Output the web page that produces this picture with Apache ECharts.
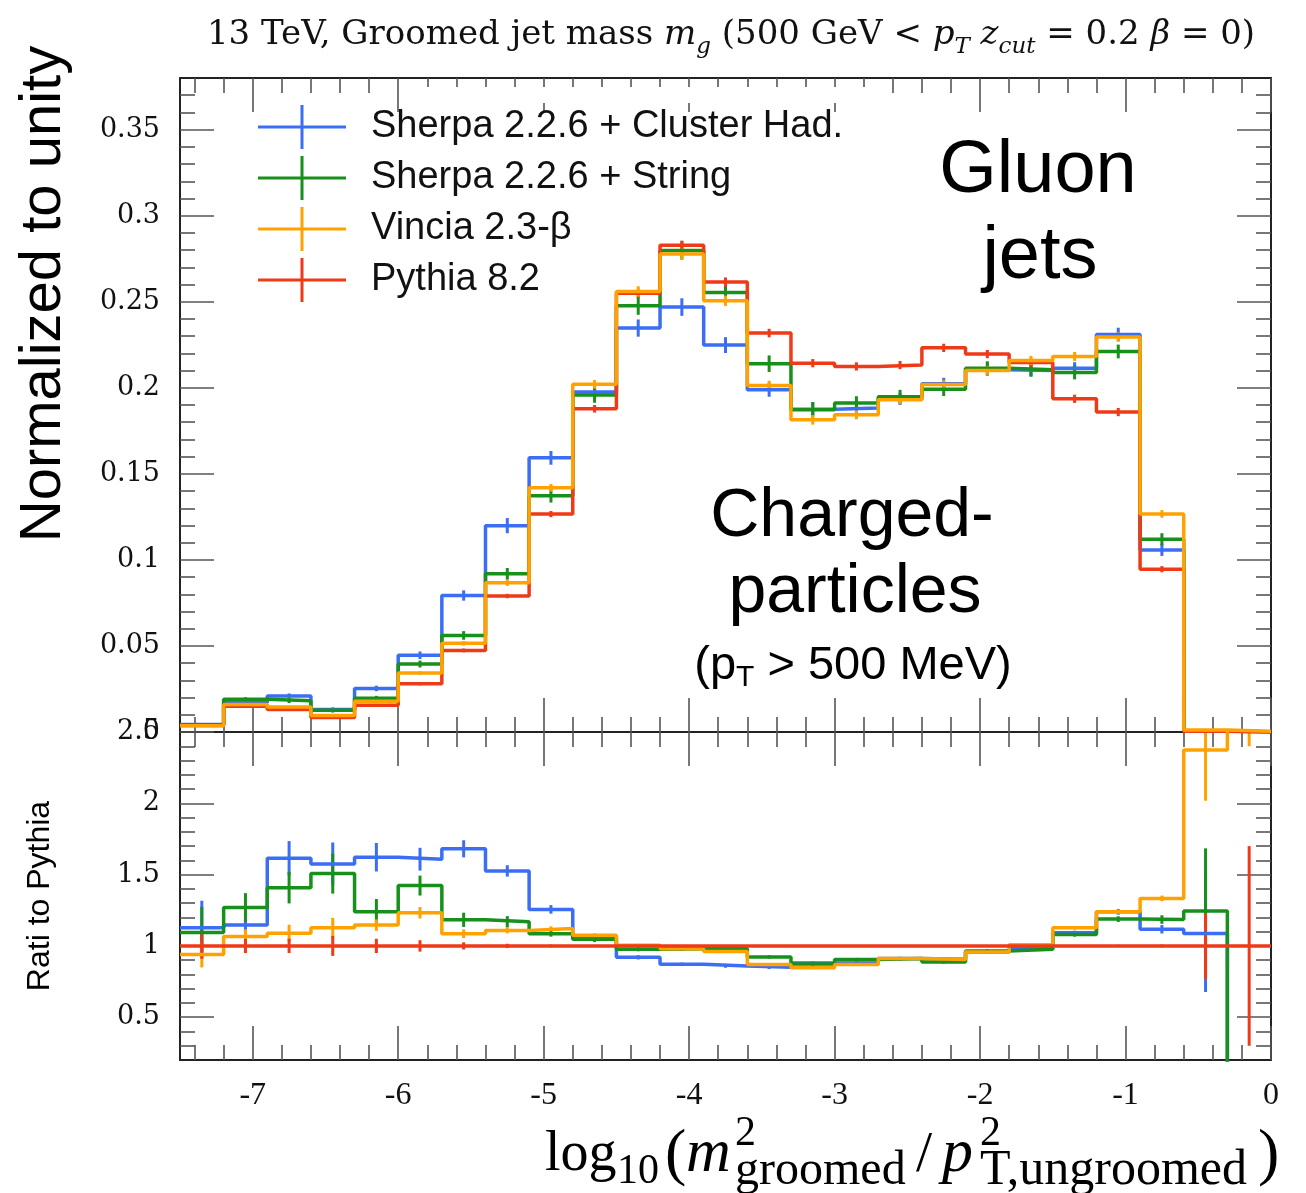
<!DOCTYPE html>
<html>
<head>
<meta charset="utf-8">
<script src="https://cdn.jsdelivr.net/npm/echarts@6/dist/echarts.min.js"></script>
<style>
  html, body { margin: 0; padding: 0; background: #fff; }
  #chart { width: 1306px; height: 1193px; }
</style>
</head>
<body>
<div id="chart"></div>
<script>
// Bin edges of log10(m_g^2 / pT^2)
const binEdges = [-7.5, -7.2, -6.9, -6.6, -6.3, -6.0, -5.7, -5.4, -5.1, -4.8, -4.5, -4.2, -3.9,
                  -3.6, -3.3, -3.0, -2.7, -2.4, -2.1, -1.8, -1.5, -1.2, -0.9, -0.6, -0.3, 0];

// Normalized distributions (upper panel)
const sherpaClusterNorm = [0.0043, 0.0172, 0.0209, 0.0131, 0.0253, 0.0446, 0.0793, 0.1199, 0.1593, 0.1975, 0.2347, 0.2469, 0.2248,
                           0.1988, 0.1876, 0.1882, 0.1935, 0.2023, 0.2105, 0.2101, 0.2114, 0.2310, 0.1058, 0.0005, 0];
const sherpaClusterNormErr = [0.0008, 0.0010, 0.0015, 0.0012, 0.0016, 0.0022, 0.0030, 0.0044, 0.0040, 0.0040, 0.0050, 0.0051, 0.0046,
                              0.0040, 0.0040, 0.0035, 0.0035, 0.0035, 0.0035, 0.0035, 0.0035, 0.0039, 0.0035, 0.0003, 0];
const sherpaStringNorm = [0.0042, 0.0190, 0.0182, 0.0126, 0.0196, 0.0395, 0.0561, 0.0919, 0.1373, 0.1958, 0.2477, 0.2798, 0.2554,
                          0.2140, 0.1872, 0.1911, 0.1948, 0.1992, 0.2114, 0.2105, 0.2089, 0.2211, 0.1120, 0.0006, 0];
const sherpaStringNormErr = [0.0008, 0.0012, 0.0014, 0.0013, 0.0014, 0.0020, 0.0025, 0.0034, 0.0040, 0.0045, 0.0053, 0.0053, 0.0053,
                             0.0048, 0.0045, 0.0040, 0.0040, 0.0040, 0.0040, 0.0040, 0.0040, 0.0040, 0.0035, 0.0004, 0];
const vinciaNorm = [0.0036, 0.0160, 0.0145, 0.0096, 0.0179, 0.0343, 0.0515, 0.0867, 0.1419, 0.2020, 0.2560, 0.2777, 0.2506,
                    0.2013, 0.1814, 0.1843, 0.1930, 0.2019, 0.2101, 0.2159, 0.2182, 0.2295, 0.1267, 0.0012, 0.0005];
const vinciaNormErr = [0.0005, 0.0006, 0.0007, 0.0007, 0.0008, 0.0010, 0.0013, 0.0018, 0.0022, 0.0025, 0.0030, 0.0032, 0.0030,
                       0.0028, 0.0028, 0.0026, 0.0026, 0.0026, 0.0026, 0.0026, 0.0026, 0.0028, 0.0022, 0.0004, 0.0003];
const pythiaNorm = [0.0038, 0.0150, 0.0131, 0.0084, 0.0156, 0.0280, 0.0474, 0.0790, 0.1266, 0.1878, 0.2550, 0.2828, 0.2614,
                    0.2318, 0.2143, 0.2124, 0.2132, 0.2232, 0.2196, 0.2147, 0.1936, 0.1859, 0.0946, 0.0005, 0.0002];
const pythiaNormErr = [0.0003, 0.0007, 0.0006, 0.0005, 0.0007, 0.0009, 0.0011, 0.0013, 0.0018, 0.0022, 0.0025, 0.0027, 0.0027,
                       0.0025, 0.0024, 0.0024, 0.0024, 0.0024, 0.0024, 0.0024, 0.0024, 0.0024, 0.0018, 0.0001, 0.0001];

// Ratios to Pythia 8.2 (lower panel)
const sherpaClusterRatio = [1.127, 1.146, 1.615, 1.575, 1.622, 1.608, 1.681, 1.526, 1.256, 1.063, 0.920, 0.871, 0.859,
                            0.850, 0.880, 0.880, 0.911, 0.906, 0.958, 0.980, 1.092, 1.239, 1.117, 1.087, 0];
const sherpaClusterRatioErr = [0.19, 0.04, 0.12, 0.15, 0.10, 0.08, 0.06, 0.04, 0.03, 0.02, 0.015, 0.012, 0.012,
                               0.012, 0.012, 0.012, 0.012, 0.012, 0.012, 0.012, 0.015, 0.02, 0.03, 0.41, 0];
const sherpaStringRatio = [1.094, 1.270, 1.408, 1.507, 1.239, 1.423, 1.183, 1.169, 1.085, 1.047, 0.977, 0.980, 0.980,
                           0.923, 0.873, 0.904, 0.911, 0.887, 0.965, 0.977, 1.080, 1.188, 1.185, 1.244, 0];
const sherpaStringRatioErr = [0.18, 0.10, 0.11, 0.14, 0.09, 0.07, 0.05, 0.04, 0.02, 0.02, 0.015, 0.015, 0.012,
                              0.012, 0.012, 0.012, 0.012, 0.012, 0.012, 0.012, 0.015, 0.02, 0.03, 0.44, 0];
const vinciaRatio = [0.939, 1.066, 1.089, 1.127, 1.146, 1.232, 1.085, 1.108, 1.122, 1.075, 1.005, 0.980, 0.960,
                     0.869, 0.847, 0.869, 0.911, 0.904, 0.958, 1.009, 1.127, 1.239, 1.333, 2.373, 3.0];
const vinciaRatioErr = [0.09, 0.05, 0.06, 0.07, 0.04, 0.04, 0.03, 0.02, 0.015, 0.012, 0.01, 0.01, 0.01,
                        0.01, 0.01, 0.01, 0.01, 0.01, 0.01, 0.01, 0.012, 0.015, 0.02, 0.355, 0.6];
const pythiaRatio = [1, 1, 1, 1, 1, 1, 1, 1, 1, 1, 1, 1, 1, 1, 1, 1, 1, 1, 1, 1, 1, 1, 1, 1, 1];
const pythiaRatioErr = [0.09, 0.05, 0.05, 0.07, 0.05, 0.04, 0.025, 0.015, 0.01, 0.008, 0.005, 0.005, 0.005,
                        0.005, 0.005, 0.005, 0.005, 0.005, 0.005, 0.005, 0.006, 0.008, 0.01, 0.23, 0.70];

// Tick marks and labels
const xMajorTicks = [-7, -6, -5, -4, -3, -2, -1, 0];
const normMajorTicks = [0, 0.05, 0.1, 0.15, 0.2, 0.25, 0.3, 0.35];
const ratioMajorTicks = [0.5, 1, 1.5, 2];
const ratioLabelValues = [0.5, 1, 1.5, 2, 2.5];

const xMinorTicks = [];
for (let k = -37; k <= -1; k++) if (k % 5 !== 0) xMinorTicks.push(k * 2 / 10);
const normMinorTicks = [];
for (let k = 1; k <= 37; k++) if (k % 5 !== 0) normMinorTicks.push(k / 100);
const ratioMinorTicks = [];
for (let k = 3; k <= 24; k++) if (k % 5 !== 0) ratioMinorTicks.push(k / 10);

const generators = [
  { name: 'Sherpa 2.2.6 + Cluster Had.', color: '#3b6ef5', norm: sherpaClusterNorm, normErr: sherpaClusterNormErr, ratio: sherpaClusterRatio, ratioErr: sherpaClusterRatioErr },
  { name: 'Sherpa 2.2.6 + String', color: '#18901c', norm: sherpaStringNorm, normErr: sherpaStringNormErr, ratio: sherpaStringRatio, ratioErr: sherpaStringRatioErr },
  { name: 'Vincia 2.3-β', color: '#ffa200', norm: vinciaNorm, normErr: vinciaNormErr, ratio: vinciaRatio, ratioErr: vinciaRatioErr },
  { name: 'Pythia 8.2', color: '#ef3a18', norm: pythiaNorm, normErr: pythiaNormErr, ratio: pythiaRatio, ratioErr: pythiaRatioErr }
];

const SERIF = 'Liberation Serif';
const WIDE_SERIF = 'DejaVu Serif';
const SANS = 'Liberation Sans';
const TICK_STYLE = { color: '#555', width: 1.6 };
const FRAME_STYLE = { color: '#222', width: 2 };
const LINE_W = 3.5;

function stepPoints(vals) {
  const pts = vals.map((v, i) => [binEdges[i], v]);
  pts.push([binEdges[vals.length], vals[vals.length - 1]]);
  return pts;
}
function errPoints(vals, errs) {
  return vals.map((v, i) => [(binEdges[i] + binEdges[i + 1]) / 2, v, errs[i]]);
}

function xAxisSet(grid, withLabels) {
  const base = { gridIndex: grid, type: 'value', min: -7.5, max: 0, splitLine: { show: false } };
  const major = (pos, labels) => Object.assign({}, base, {
    position: pos,
    axisLine: { show: true, onZero: false, lineStyle: FRAME_STYLE },
    axisTick: { show: true, inside: true, length: 34, customValues: xMajorTicks, lineStyle: TICK_STYLE },
    axisLabel: { show: labels, customValues: xMajorTicks, margin: 20, fontFamily: SERIF, fontSize: 32, color: '#111' }
  });
  const minor = (pos) => Object.assign({}, base, {
    position: pos,
    axisLine: { show: false, onZero: false },
    axisTick: { show: true, inside: true, length: 15, customValues: xMinorTicks, lineStyle: TICK_STYLE },
    axisLabel: { show: false }
  });
  return [major('bottom', withLabels), minor('bottom'), major('top', false), minor('top')];
}

function yAxisSet(grid, min, max, majors, minors, labels) {
  const base = { gridIndex: grid, type: 'value', min: min, max: max, splitLine: { show: false } };
  const major = (pos, showLabels) => Object.assign({}, base, {
    position: pos,
    axisLine: { show: true, onZero: false, lineStyle: FRAME_STYLE },
    axisTick: { show: true, inside: true, length: 34, customValues: majors, lineStyle: TICK_STYLE },
    axisLabel: { show: showLabels, customValues: labels, margin: 20, fontFamily: WIDE_SERIF, fontSize: 27, color: '#111' }
  });
  const minor = (pos) => Object.assign({}, base, {
    position: pos,
    axisLine: { show: false, onZero: false },
    axisTick: { show: true, inside: true, length: 15, customValues: minors, lineStyle: TICK_STYLE },
    axisLabel: { show: false }
  });
  return [major('left', true), minor('left'), major('right', false), minor('right')];
}

function errorBarSeries(name, color, data, xi, yi) {
  return {
    name: name, type: 'custom', xAxisIndex: xi, yAxisIndex: yi, clip: true, z: 3,
    encode: { x: 0, y: 1 },
    data: data,
    renderItem: function (params, api) {
      const x = api.value(0), y = api.value(1), e = api.value(2);
      if (!(e > 0)) return null;
      const a = api.coord([x, y - e]);
      const b = api.coord([x, y + e]);
      return { type: 'line', shape: { x1: a[0], y1: a[1], x2: b[0], y2: b[1] },
               style: { stroke: color, lineWidth: 3 } };
    }
  };
}

function stepSeries(name, color, vals, xi, yi) {
  return {
    name: name, type: 'line', step: 'end', xAxisIndex: xi, yAxisIndex: yi,
    showSymbol: false, symbol: 'none', clip: true, z: 3,
    itemStyle: { color: color },
    lineStyle: { color: color, width: LINE_W },
    data: stepPoints(vals)
  };
}

const series = [];
// upper panel: Sherpa cluster, Sherpa string, Pythia, Vincia on top
[0, 1, 3, 2].forEach(i => {
  const g = generators[i];
  series.push(stepSeries(g.name, g.color, g.norm, 0, 0));
  series.push(errorBarSeries(g.name, g.color, errPoints(g.norm, g.normErr), 0, 0));
});
// lower panel: reference line last
[0, 1, 2, 3].forEach(i => {
  const g = generators[i];
  series.push(stepSeries(g.name, g.color, g.ratio, 4, 4));
  series.push(errorBarSeries(g.name, g.color, errPoints(g.ratio, g.ratioErr), 4, 4));
});

const plusIcon = 'path://M0,20.5 L42.5,20.5 L42.5,0 L45.5,0 L45.5,20.5 L88,20.5 L88,23.5 L45.5,23.5 L45.5,44 L42.5,44 L42.5,23.5 L0,23.5 Z';

function txt(x, y, text, size, opts) {
  return {
    type: 'text', x: x, y: y, z: 10, rotation: (opts && opts.rotation) || 0,
    style: Object.assign({
      text: text, fontSize: size, fontFamily: SANS, fill: '#000',
      align: 'center', verticalAlign: 'middle'
    }, (opts && opts.style) || {})
  };
}

const serifLeft = { fontFamily: SERIF, align: 'left' };
const serifItalicLeft = { fontFamily: SERIF, fontStyle: 'italic', align: 'left' };

const graphic = [
  // white backing behind the legend entries
  { type: 'rect', z: 1, shape: { x: 405, y: 87, width: 475, height: 16 }, style: { fill: '#fff' } },
  // title line
  {
    type: 'text', x: 731, y: 35, z: 10,
    style: {
      text: '{n|13 TeV, Groomed jet mass }{i|m}{s|g}{n| (500 GeV < }{i|p}{s|T}{n| }{i|z}{s|cut}{n| = 0.2 }{i|β}{n| = 0)}',
      align: 'center', verticalAlign: 'middle',
      rich: {
        n: { fontFamily: WIDE_SERIF, fontSize: 34, lineHeight: 48, fill: '#111' },
        i: { fontFamily: WIDE_SERIF, fontStyle: 'italic', fontSize: 34, lineHeight: 48, fill: '#111' },
        s: { fontFamily: WIDE_SERIF, fontStyle: 'italic', fontSize: 23, lineHeight: 23, verticalAlign: 'bottom', fill: '#111' }
      }
    }
  },
  // axis titles
  txt(44, 294, 'Normalized to unity', 58, { rotation: Math.PI / 2 }),
  txt(40, 896, 'Rati to Pythia', 32, { rotation: Math.PI / 2 }),
  // in-plot annotations
  txt(1038, 172, 'Gluon', 74),
  txt(1040, 258, 'jets', 74),
  txt(852, 517, 'Charged-', 68),
  txt(855, 593, 'particles', 68),
  {
    type: 'text', x: 853, y: 666, z: 10,
    style: {
      text: '{a|(p}{b|T}{a| > 500 MeV)}',
      align: 'center', verticalAlign: 'middle',
      rich: {
        a: { fontFamily: SANS, fontSize: 47, lineHeight: 54, fill: '#000' },
        b: { fontFamily: SANS, fontSize: 30, lineHeight: 30, verticalAlign: 'bottom', fill: '#000' }
      }
    }
  },
  // x-axis title: log10(m^2_groomed / p^2_T,ungroomed)
  txt(545, 1155, 'log', 56, { style: serifLeft }),
  txt(617, 1172, '10', 42, { style: serifLeft }),
  txt(665, 1156, '(', 64, { style: serifLeft }),
  txt(686, 1155, 'm', 62, { style: serifItalicLeft }),
  txt(735, 1134, '2', 42, { style: serifLeft }),
  txt(735, 1171, 'groomed', 48, { style: serifLeft }),
  txt(916, 1156, '/', 58, { style: serifLeft }),
  txt(942, 1155, 'p', 62, { style: serifItalicLeft }),
  txt(980, 1134, '2', 42, { style: serifLeft }),
  txt(980, 1171, 'T,ungroomed', 50, { style: serifLeft }),
  txt(1258, 1156, ')', 64, { style: serifLeft })
];

const option = {
  animation: false,
  backgroundColor: '#ffffff',
  grid: [
    { left: 180, right: 35, top: 78, height: 654 },
    { left: 180, right: 35, top: 732, height: 328 }
  ],
  xAxis: [].concat(xAxisSet(0, false), xAxisSet(1, true)),
  yAxis: [].concat(
    yAxisSet(0, 0, 0.38, normMajorTicks, normMinorTicks, normMajorTicks),
    yAxisSet(1, 0.2, 2.5, ratioMajorTicks, ratioMinorTicks, ratioLabelValues)
  ),
  legend: {
    orient: 'vertical', left: 253, top: 100,
    itemWidth: 88, itemHeight: 44, itemGap: 7,
    selectedMode: false,
    itemStyle: { borderWidth: 0 },
    textStyle: { fontFamily: SANS, fontSize: 38, color: '#111', lineHeight: 44, padding: [0, 0, 0, 20] },
    data: generators.map(g => ({ name: g.name, icon: plusIcon, itemStyle: { color: g.color, borderWidth: 0 } }))
  },
  series: series,
  graphic: graphic
};

const chart = echarts.init(document.getElementById('chart'), null, { renderer: 'canvas' });
chart.setOption(option);
</script>
</body>
</html>
